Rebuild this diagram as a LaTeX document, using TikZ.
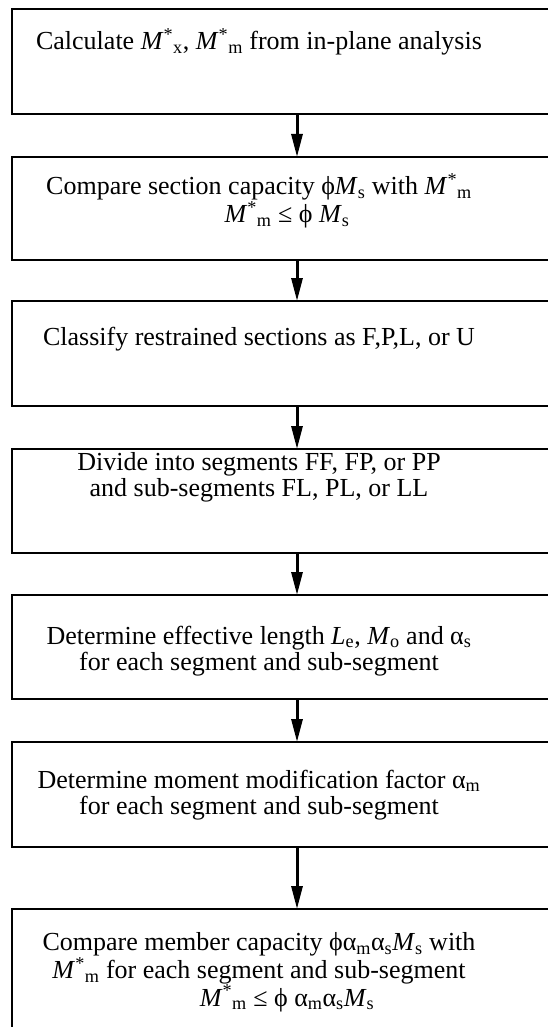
\documentclass[tikz,border=0pt]{standalone}
\usepackage{fontspec}
\setmainfont{Liberation Serif}
\usetikzlibrary{arrows.meta}
% symbols used in the step texts
\newcommand{\Mv}[1]{\textit{M}\textsubscript{#1}}
\newcommand{\Mst}[1]{\textit{M}\textsuperscript{*}\textsubscript{#1}}
\newcommand{\phisym}{\symbol{"03D5}}
\newcommand{\alsub}[1]{α\textsubscript{#1}}
% formula lines sit a little right of the prose lines
\newcommand{\fline}{\hspace*{56pt}}
\begin{document}
\begin{tikzpicture}[x=1pt,y=-1pt,
  stepbox/.style={draw, line width=1.6pt, minimum width=570pt, anchor=north,
    inner sep=0pt, outer sep=0pt},
  % base anchor = baseline of the last line of each text
  steptext/.style={anchor=base, align=center, inner sep=0pt,
    font=\fontsize{26}{26.5}\selectfont},
  flow/.style={line width=3pt, -{Triangle[length=23pt,width=11pt]}}]
\useasboundingbox (0,0) rectangle (548,1027);
\clip (0,0) rectangle (548,1027);

% process boxes, top to bottom
\node[stepbox, minimum height=105pt] (b1) at (297,9) {};
\node[stepbox, minimum height=103pt] (b2) at (297,157) {};
\node[stepbox, minimum height=105pt] (b3) at (297,301) {};
\node[stepbox, minimum height=104pt] (b4) at (297,449) {};
\node[stepbox, minimum height=104pt] (b5) at (297,595) {};
\node[stepbox, minimum height=105pt] (b6) at (297,742) {};
\node[stepbox, minimum height=140pt] (b7) at (297,909) {};

% step descriptions
\node[steptext] (t1) at (259,50)
  {Calculate \Mst{x}, \Mst{m} from in-plane analysis};
\node[steptext] (t2) at (259,222.5)
  {Compare section capacity \phisym\Mv{s} with \Mst{m}\\
   \fline\Mst{m} ≤ \phisym{} \Mv{s}};
\node[steptext] (t3) at (259,345)
  {Classify restrained sections as F,P,L, or U};
\node[steptext] (t4) at (259,496.5)
  {Divide into segments FF, FP, or PP\\
   and sub-segments FL, PL, or LL};
\node[steptext] (t5) at (259,670.5)
  {Determine effective length \textit{L}\textsubscript{e}, \Mv{o} and \alsub{s}\\
   for each segment and sub-segment};
\node[steptext] (t6) at (259,814.5)
  {Determine moment modification factor \alsub{m}\\
   for each segment and sub-segment};
\node[steptext] (t7) at (259,1006)
  {Compare member capacity \phisym\alsub{m}\alsub{s}\Mv{s} with\\
   \Mst{m} for each segment and sub-segment\\
   \fline\Mst{m} ≤ \phisym{} \alsub{m}\alsub{s}\Mv{s}};

% flow arrows
\draw[flow] (b1.south) -- (b2.north);
\draw[flow] (b2.south) -- (b3.north);
\draw[flow] (b3.south) -- (b4.north);
\draw[flow] (b4.south) -- (b5.north);
\draw[flow] (b5.south) -- (b6.north);
\draw[flow] (b6.south) -- (b7.north);
\end{tikzpicture}
\end{document}
